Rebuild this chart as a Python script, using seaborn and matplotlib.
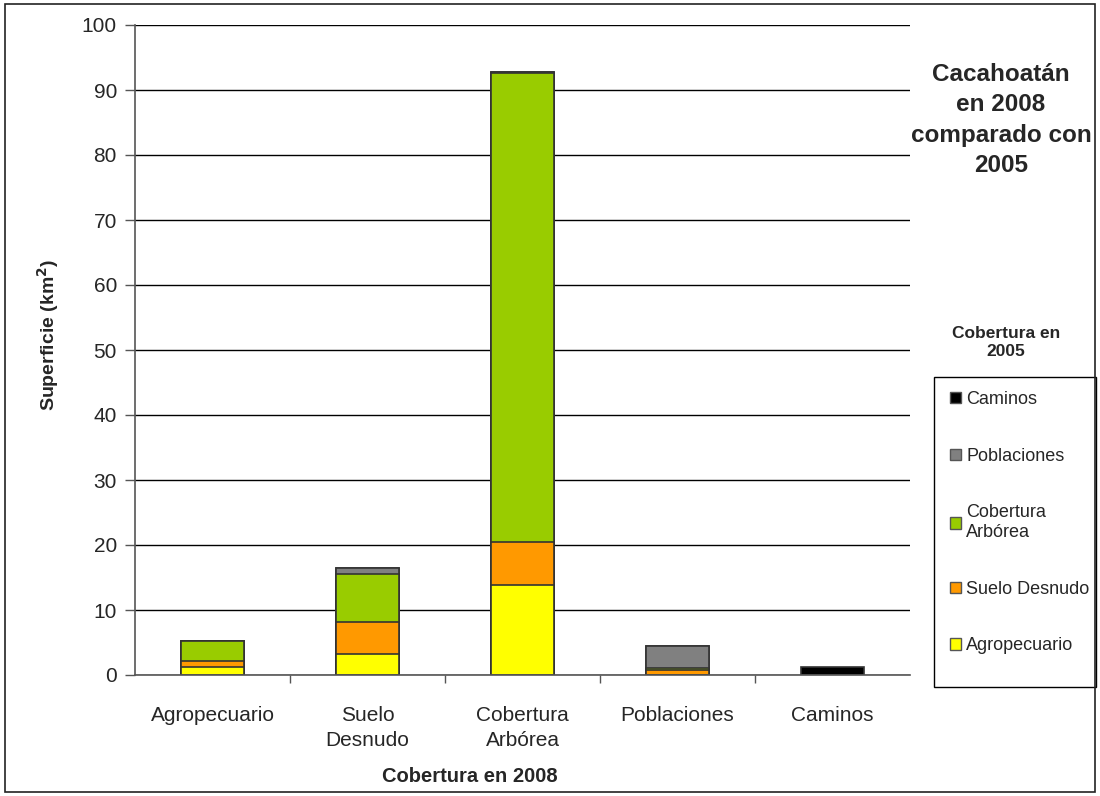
import matplotlib
matplotlib.use("Agg")
import numpy as np
import pandas as pd
import seaborn as sns
from matplotlib import pyplot as plt
from matplotlib.patches import Patch, Rectangle

sns.set_style("white")
plt.rcParams["font.family"] = ["Liberation Sans", "DejaVu Sans"]

# Cobertura en 2008 (x axis)
categories = ["Agropecuario", "Suelo\nDesnudo", "Cobertura\nArbórea", "Poblaciones", "Caminos"]

# Superficie (km2) by cobertura en 2005, stacked bottom to top
agropecuario = [1.2, 3.3, 13.9, 0.0, 0.0]
suelo_desnudo = [1.0, 4.8, 6.5, 0.7, 0.0]
cobertura_arborea = [3.0, 7.5, 72.2, 0.4, 0.0]
poblaciones = [0.0, 0.8, 0.2, 3.4, 0.0]
caminos = [0.0, 0.0, 0.0, 0.0, 1.3]

series_names = ["Agropecuario", "Suelo Desnudo", "Cobertura Arbórea", "Poblaciones", "Caminos"]
legend_labels = ["Agropecuario", "Suelo Desnudo", "Cobertura\nArbórea", "Poblaciones", "Caminos"]
series_colors = ["#FFFF00", "#FF9900", "#99CC00", "#808080", "#000000"]

df = pd.DataFrame(
    {
        "cat": categories,
        "Agropecuario": agropecuario,
        "Suelo Desnudo": suelo_desnudo,
        "Cobertura Arbórea": cobertura_arborea,
        "Poblaciones": poblaciones,
        "Caminos": caminos,
    }
)
cum = df[series_names].cumsum(axis=1)
cum["cat"] = df["cat"]

fig = plt.figure(figsize=(11, 7.96), dpi=100)
ax = fig.add_axes([135 / 1100, 1 - 675 / 796, 775 / 1100, 650 / 796])

# draw cumulative layers from the top down so each one covers the previous
for name, color in reversed(list(zip(series_names, series_colors))):
    sns.barplot(
        data=cum, x="cat", y=name, order=categories, color=color,
        width=0.41, edgecolor="#333333", linewidth=1.2, ax=ax,
        saturation=1, errorbar=None,
    )

ax.set_ylim(0, 100)
ax.set_xlim(-0.5, 4.5)
ax.set_yticks(range(0, 101, 10))
ax.yaxis.grid(True, color="black", linewidth=1)
ax.set_axisbelow(True)
for side in ["top", "right"]:
    ax.spines[side].set_visible(False)
for side in ["left", "bottom"]:
    ax.spines[side].set_color("#555555")
    ax.spines[side].set_linewidth(1.2)

ax.tick_params(axis="y", which="major", left=True, length=7, width=1, color="#555555",
               labelsize=15, pad=6)
ax.tick_params(axis="x", which="major", bottom=False, labelsize=15, pad=19)
for lbl in ax.get_xticklabels():
    lbl.set_linespacing(1.35)
ax.set_xticks(np.arange(0.5, 4.5, 1), minor=True)
ax.tick_params(axis="x", which="minor", bottom=True, length=6, width=1, color="#555555")

ax.set_xlabel("Cobertura en 2008", fontsize=14.5, fontweight="bold")
ax.xaxis.set_label_coords(0.432, -0.141)
ax.set_ylabel("Superficie (km$\\mathbf{^2}$)", fontsize=14, fontweight="bold")
ax.yaxis.set_label_coords(-0.095, 0.523)

fig.text(1001 / 1100, 1 - 120 / 796, "Cacahoatán\nen 2008\ncomparado con\n2005",
         ha="center", va="center", fontsize=17.5, fontweight="bold", linespacing=1.42)
fig.text(1006 / 1100, 1 - 343 / 796, "Cobertura en\n2005",
         ha="center", va="center", fontsize=12.5, fontweight="bold", linespacing=1.25)

# legend box drawn separately so its size matches the original
fig.patches.append(Rectangle((934 / 1100, 1 - 687 / 796), 162 / 1100, 310 / 796,
                             transform=fig.transFigure, fill=False,
                             edgecolor="black", linewidth=1))
handles = [Patch(facecolor=c, edgecolor="#555555", label=l)
           for c, l in zip(series_colors, legend_labels)][::-1]
fig.legend(
    handles=handles, loc="upper left", bbox_to_anchor=(950 / 1100, 1 - 391 / 796),
    fontsize=13, frameon=False,
    labelspacing=2.2, handlelength=0.6, handleheight=0.6, handletextpad=0.3,
    borderpad=0, borderaxespad=0,
)

fig.patches.append(Rectangle((5 / 1100, 4 / 796), 1090 / 1100, 788 / 796,
                             transform=fig.transFigure, fill=False,
                             edgecolor="#222222", linewidth=1.2))

fig.savefig("out.png", dpi=100)
